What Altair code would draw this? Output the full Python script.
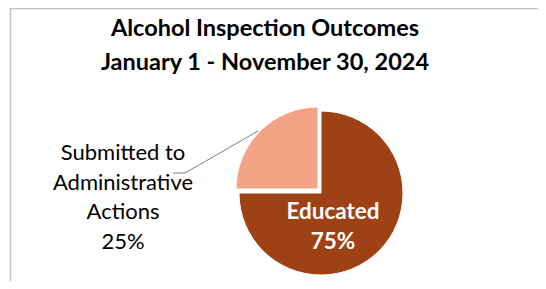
import altair as alt
import pandas as pd

# ---- data ----
categories = ["Educated", "Submitted to Administrative Actions"]
values = [75, 25]
colors = ["#9E4114", "#F4A387"]
title_lines = ["Alcohol Inspection Outcomes", "January 1 - November 30, 2024"]

W, H = 530, 273
FONT = "Lato"

df = pd.DataFrame({"category": categories, "value": values, "idx": list(range(len(categories)))})

pie = (
    alt.Chart(df)
    .transform_calculate(
        cx="datum.idx == 0 ? 313 : 310",
        cy="datum.idx == 0 ? 185 : 181",
    )
    .mark_arc(outerRadius=82, stroke="white", strokeWidth=1)
    .encode(
        theta=alt.Theta("value:Q", stack=True),
        order=alt.Order("idx:Q"),
        x=alt.X("cx:Q", scale=None),
        y=alt.Y("cy:Q", scale=None),
        color=alt.Color("category:N", scale=alt.Scale(domain=categories, range=colors), legend=None),
    )
)

title1 = (
    alt.Chart(pd.DataFrame({"t": [title_lines[0]]}))
    .mark_text(font=FONT, fontSize=23.5, fontWeight="bold", color="black",
               baseline="middle", align="center")
    .encode(text="t:N", x=alt.value(257), y=alt.value(21))
)
title2 = (
    alt.Chart(pd.DataFrame({"t": [title_lines[1]]}))
    .mark_text(font=FONT, fontSize=23.5, fontWeight="bold", color="black",
               baseline="middle", align="center")
    .encode(text="t:N", x=alt.value(257), y=alt.value(55))
)

edu_label = (
    alt.Chart(pd.DataFrame({"t": [f"{categories[0]}\n{values[0]}%"]}))
    .mark_text(font=FONT, fontSize=22.5, fontWeight="bold", color="white",
               lineBreak="\n", lineHeight=30, baseline="middle", align="center")
    .encode(text="t:N", x=alt.value(325), y=alt.value(204))
)

sub_label = (
    alt.Chart(pd.DataFrame({"t": ["Submitted to\nAdministrative\nActions\n" + f"{values[1]}%"]}))
    .mark_text(font=FONT, fontSize=22, color="black",
               lineBreak="\n", lineHeight=29.7, baseline="middle", align="center")
    .encode(text="t:N", x=alt.value(115), y=alt.value(145))
)

leader1 = alt.Chart(pd.DataFrame({"a": [0]})).mark_rule(color="#808080", strokeWidth=1).encode(
    x=alt.value(250), y=alt.value(123), x2=alt.value(177), y2=alt.value(165))
leader2 = alt.Chart(pd.DataFrame({"a": [0]})).mark_rule(color="#808080", strokeWidth=1).encode(
    x=alt.value(177), y=alt.value(165), x2=alt.value(165), y2=alt.value(165))

border_top = alt.Chart(pd.DataFrame({"a": [0]})).mark_rule(color="#c4c4c4", strokeWidth=1.5).encode(
    x=alt.value(2), x2=alt.value(W), y=alt.value(0.5))
border_left = alt.Chart(pd.DataFrame({"a": [0]})).mark_rule(color="#c4c4c4", strokeWidth=1.5).encode(
    x=alt.value(2.5), y=alt.value(0), y2=alt.value(H))

chart = (
    alt.layer(border_top, border_left, pie, leader1, leader2, title1, title2, edu_label, sub_label)
    .properties(width=W, height=H, padding=0, autosize=alt.AutoSizeParams(type="none"))
    .configure_view(stroke=None)
)

chart.save("out.html", embed_options={"renderer": "svg", "actions": False})
